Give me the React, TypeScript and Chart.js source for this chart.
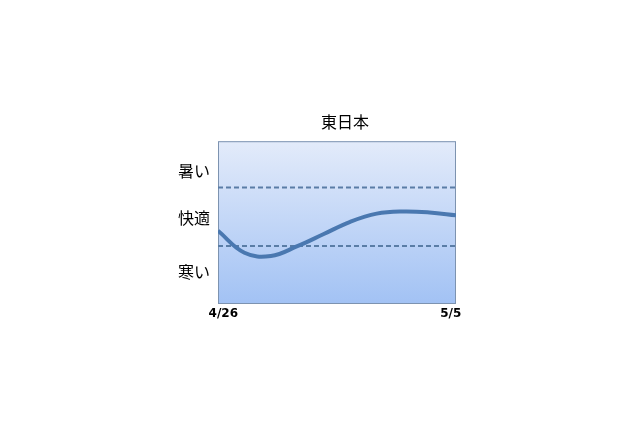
import { Chart, registerables } from "chart.js"
import { useEffect, useRef } from "react"

Chart.register(...registerables)

const title = "東日本"
const days = [0, 1, 2, 3, 4, 5, 6, 7, 8, 9]
const feeling = [45, 31.5, 29.5, 35.5, 43, 50.5, 55.5, 56.8, 56.2, 54.5]
const xTickValues = [0.2, 8.8]
const xTickLabels = ["4/26", "5/5"]
const yTickValues = [19.6, 52.8, 82]
const yTickLabels = ["寒い", "快適", "暑い"]
const hotLine = 71.5
const coldLine = 35.6

const plotBackground = {
    id: "plotBackground",
    afterLayout(chart: any) {
        // title sits a bit right of the plot centre in the original
        const t = chart.titleBlock
        if (t) {
            t.left += 33
            t.right += 33
        }
    },
    beforeDatasetsDraw(chart: any) {
        const { ctx, chartArea } = chart
        const { left, top, right, bottom } = chartArea
        const grad = ctx.createLinearGradient(0, top, 0, bottom)
        grad.addColorStop(0, "#e3ebfa")
        grad.addColorStop(1, "#a2c2f4")
        ctx.save()
        ctx.fillStyle = grad
        ctx.fillRect(left, top, right - left, bottom - top)
        ctx.strokeStyle = "#7d93b0"
        ctx.lineWidth = 1
        ctx.strokeRect(left + 0.5, top + 0.5, right - left - 1, bottom - top - 1)
        ctx.restore()
    }
}

const App = () => {
    const canvasRef = useRef<HTMLCanvasElement>(null)

    useEffect(() => {
        if (!canvasRef.current) return
        const dashed = {
            borderColor: "#5a7da6",
            borderWidth: 2,
            borderDash: [5, 3],
            pointRadius: 0,
            tension: 0
        }
        const chart = new Chart(canvasRef.current, {
            type: "line",
            data: {
                datasets: [
                    {
                        data: days.map((d, i) => ({ x: d, y: feeling[i] })),
                        borderColor: "#4a78b0",
                        borderWidth: 4,
                        pointRadius: 0,
                        tension: 0.4
                    },
                    { ...dashed, data: [{ x: days[0], y: hotLine }, { x: days[days.length - 1], y: hotLine }] },
                    { ...dashed, data: [{ x: days[0], y: coldLine }, { x: days[days.length - 1], y: coldLine }] }
                ]
            },
            options: {
                animation: false,
                responsive: true,
                maintainAspectRatio: false,
                layout: { padding: { left: 168, right: 184, top: 112, bottom: 102 } },
                plugins: {
                    legend: { display: false },
                    tooltip: { enabled: false },
                    title: {
                        display: true,
                        text: title,
                        color: "#000",
                        font: { family: "'Noto Sans CJK JP'", size: 16, weight: "normal" },
                        padding: { top: 0, bottom: 10 }
                    }
                },
                scales: {
                    x: {
                        type: "linear",
                        min: 0,
                        max: 9,
                        grid: { display: false, drawTicks: false },
                        border: { display: false },
                        afterBuildTicks: (scale: any) => {
                            scale.ticks = xTickValues.map(v => ({ value: v }))
                        },
                        afterFit: (scale: any) => { scale.height = 20 },
                        ticks: {
                            autoSkip: false,
                            maxRotation: 0,
                            padding: 3,
                            color: "#000",
                            font: { family: "'DejaVu Sans'", size: 12, weight: "bold" },
                            callback: (v: any) => xTickLabels[xTickValues.indexOf(v)] ?? ""
                        }
                    },
                    y: {
                        min: 0,
                        max: 100,
                        grid: { display: false, drawTicks: false },
                        border: { display: false },
                        afterBuildTicks: (scale: any) => {
                            scale.ticks = yTickValues.map(v => ({ value: v }))
                        },
                        afterFit: (scale: any) => { scale.width = 50 },
                        ticks: {
                            autoSkip: false,
                            padding: 8,
                            color: "#000",
                            font: { family: "'Noto Sans CJK JP'", size: 16 },
                            callback: (v: any) => yTickLabels[yTickValues.indexOf(v)] ?? ""
                        }
                    }
                }
            },
            plugins: [plotBackground]
        } as any)
        return () => {
            chart.destroy()
        }
    }, [])

    return (
        <div style={{ position: "fixed", left: 0, top: 0, width: 640, height: 426, background: "#fff" }}>
            <canvas ref={canvasRef}></canvas>
        </div>
    )
}

export default App
